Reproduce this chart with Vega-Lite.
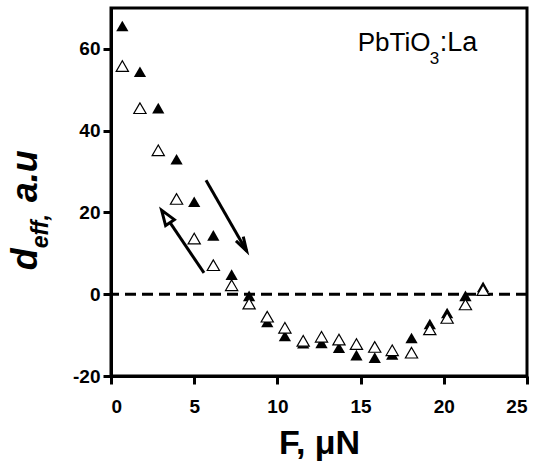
{
  "$schema": "https://vega.github.io/schema/vega-lite/v6.json",
  "width": 416,
  "height": 368,
  "autosize": {"type": "none"},
  "padding": {"left": 111, "top": 8, "right": 23, "bottom": 86},
  "background": "white",
  "datasets": {
    "points": [
      {"series": "up", "F": 0.68, "d": 65.6},
      {"series": "up", "F": 1.74, "d": 54.4},
      {"series": "up", "F": 2.84, "d": 45.5},
      {"series": "up", "F": 3.94, "d": 33.0},
      {"series": "up", "F": 5.0, "d": 22.6},
      {"series": "up", "F": 6.15, "d": 14.4},
      {"series": "up", "F": 7.25, "d": 4.8},
      {"series": "up", "F": 8.3, "d": -0.4},
      {"series": "up", "F": 9.39, "d": -6.8},
      {"series": "up", "F": 10.45, "d": -10.2},
      {"series": "up", "F": 11.55, "d": -12.0},
      {"series": "up", "F": 12.65, "d": -11.9},
      {"series": "up", "F": 13.7, "d": -13.1},
      {"series": "up", "F": 14.75, "d": -14.9},
      {"series": "up", "F": 15.85, "d": -15.5},
      {"series": "up", "F": 16.9, "d": -14.7},
      {"series": "up", "F": 18.06, "d": -10.7},
      {"series": "up", "F": 19.16, "d": -7.3},
      {"series": "up", "F": 20.2, "d": -4.6},
      {"series": "up", "F": 21.3, "d": -0.4},
      {"series": "up", "F": 22.36, "d": 1.8},
      {"series": "down", "F": 0.68, "d": 55.8},
      {"series": "down", "F": 1.74, "d": 45.5},
      {"series": "down", "F": 2.84, "d": 35.2},
      {"series": "down", "F": 3.94, "d": 23.3},
      {"series": "down", "F": 5.0, "d": 13.6},
      {"series": "down", "F": 6.15, "d": 7.1},
      {"series": "down", "F": 7.25, "d": 2.2},
      {"series": "down", "F": 8.3, "d": -2.3},
      {"series": "down", "F": 9.39, "d": -5.5},
      {"series": "down", "F": 10.45, "d": -8.2},
      {"series": "down", "F": 11.55, "d": -11.4},
      {"series": "down", "F": 12.65, "d": -10.4},
      {"series": "down", "F": 13.7, "d": -11.1},
      {"series": "down", "F": 14.75, "d": -12.2},
      {"series": "down", "F": 15.85, "d": -12.9},
      {"series": "down", "F": 16.9, "d": -13.7},
      {"series": "down", "F": 18.06, "d": -14.3},
      {"series": "down", "F": 19.16, "d": -8.6},
      {"series": "down", "F": 20.2, "d": -5.8},
      {"series": "down", "F": 21.3, "d": -2.5},
      {"series": "down", "F": 22.36, "d": 1.0}
    ],
    "arrows": [
      {"arrow": "a", "step": 0, "F": 5.71, "d": 27.9},
      {"arrow": "a", "step": 1, "F": 8.15, "d": 10.6},
      {"arrow": "b", "step": 0, "F": 5.59, "d": 5.2},
      {"arrow": "b", "step": 1, "F": 3.55, "d": 17.5}
    ],
    "one": [{"k": 1}]
  },
  "layer": [
    {
      "data": {"name": "arrows"},
      "mark": {"type": "line", "color": "black", "strokeWidth": 3},
      "encoding": {
        "x": {"field": "F", "type": "quantitative", "scale": {"domain": [0, 25], "nice": false}, "axis": {"values": [0, 5, 10, 15, 20, 25], "title": "F, μN", "labelExpr": "'' + datum.value"}},
        "y": {"field": "d", "type": "quantitative", "scale": {"domain": [-20, 70], "nice": false}, "axis": {"values": [-20, 0, 20, 40, 60], "title": null, "labelExpr": "'' + datum.value"}},
        "detail": {"field": "arrow"},
        "order": {"field": "step"}
      }
    },
    {
      "data": {"name": "one"},
      "mark": {"type": "rule", "color": "black", "strokeWidth": 3, "strokeDash": [11, 6]},
      "encoding": {"y": {"datum": 0, "type": "quantitative"}}
    },
    {
      "data": {"name": "one"},
      "mark": {"type": "point", "shape": "M-0.3,1L0,0L0.3,1", "size": 784, "filled": false, "stroke": "black", "strokeWidth": 3, "angle": 150, "opacity": 1},
      "encoding": {"x": {"datum": 8.15, "type": "quantitative"}, "y": {"datum": 10.6, "type": "quantitative"}}
    },
    {
      "data": {"name": "one"},
      "mark": {"type": "point", "shape": "M0,0L-0.35,1L0.35,1Z", "size": 900, "filled": false, "fill": "white", "stroke": "black", "strokeWidth": 3, "angle": 326, "opacity": 1, "fillOpacity": 1},
      "encoding": {"x": {"datum": 3.04, "type": "quantitative"}, "y": {"datum": 20.56, "type": "quantitative"}}
    },
    {
      "data": {"name": "points"},
      "transform": [{"filter": "datum.series === 'up'"}],
      "mark": {"type": "point", "shape": "triangle-up", "size": 150, "filled": true, "color": "black", "opacity": 1},
      "encoding": {
        "x": {"field": "F", "type": "quantitative", "axis": {"values": [0, 5, 10, 15, 20, 25], "title": "F, μN", "labelExpr": "'' + datum.value"}},
        "y": {"field": "d", "type": "quantitative", "axis": {"values": [-20, 0, 20, 40, 60], "title": null, "labelExpr": "'' + datum.value"}}
      }
    },
    {
      "data": {"name": "points"},
      "transform": [{"filter": "datum.series === 'down'"}],
      "mark": {"type": "point", "shape": "triangle-up", "size": 150, "filled": false, "fill": "white", "fillOpacity": 1, "stroke": "black", "strokeWidth": 1.2, "opacity": 1},
      "encoding": {
        "x": {"field": "F", "type": "quantitative", "axis": {"values": [0, 5, 10, 15, 20, 25], "title": "F, μN", "labelExpr": "'' + datum.value"}},
        "y": {"field": "d", "type": "quantitative", "axis": {"values": [-20, 0, 20, 40, 60], "title": null, "labelExpr": "'' + datum.value"}}
      }
    },
    {
      "data": {"name": "one"},
      "mark": {"type": "text", "text": "PbTiO", "font": "Liberation Sans", "fontSize": 26, "align": "left", "baseline": "alphabetic", "color": "black"},
      "encoding": {"x": {"datum": 14.83, "type": "quantitative"}, "y": {"datum": 59.4, "type": "quantitative"}}
    },
    {
      "data": {"name": "one"},
      "mark": {"type": "text", "text": "3", "font": "Liberation Sans", "fontSize": 17, "align": "left", "baseline": "alphabetic", "dx": 72, "dy": 13, "color": "black"},
      "encoding": {"x": {"datum": 14.83, "type": "quantitative"}, "y": {"datum": 59.4, "type": "quantitative"}}
    },
    {
      "data": {"name": "one"},
      "mark": {"type": "text", "text": ":La", "font": "Liberation Sans", "fontSize": 27, "align": "left", "baseline": "alphabetic", "dx": 82, "color": "black"},
      "encoding": {"x": {"datum": 14.83, "type": "quantitative"}, "y": {"datum": 59.4, "type": "quantitative"}}
    },
    {
      "data": {"name": "one"},
      "mark": {"type": "text", "text": "d", "font": "Liberation Sans", "fontSize": 36, "fontWeight": "bold", "fontStyle": "italic", "align": "left", "baseline": "alphabetic", "angle": 270, "color": "black"},
      "encoding": {"x": {"datum": -4.44, "type": "quantitative"}, "y": {"datum": 5.88, "type": "quantitative"}}
    },
    {
      "data": {"name": "one"},
      "mark": {"type": "text", "text": "eff,", "font": "Liberation Sans", "fontSize": 23, "fontWeight": "bold", "fontStyle": "italic", "align": "left", "baseline": "alphabetic", "angle": 270, "dx": 22, "dy": 11, "color": "black"},
      "encoding": {"x": {"datum": -4.44, "type": "quantitative"}, "y": {"datum": 5.88, "type": "quantitative"}}
    },
    {
      "data": {"name": "one"},
      "mark": {"type": "text", "text": "a.u", "font": "Liberation Sans", "fontSize": 36, "fontWeight": "bold", "fontStyle": "italic", "align": "left", "baseline": "alphabetic", "angle": 270, "dx": 68, "color": "black"},
      "encoding": {"x": {"datum": -4.44, "type": "quantitative"}, "y": {"datum": 5.88, "type": "quantitative"}}
    }
  ],
  "config": {
    "view": {"stroke": "black", "strokeWidth": 3},
    "axis": {
      "grid": false,
      "domainColor": "black",
      "domainWidth": 3,
      "tickColor": "black",
      "tickWidth": 3,
      "tickSize": 8,
      "labelFont": "Arial",
      "labelFontSize": 19,
      "labelFontWeight": "bold",
      "labelColor": "black",
      "titleFont": "Liberation Sans",
      "titleFontSize": 34,
      "titleFontWeight": "bold",
      "titleColor": "black"
    },
    "axisX": {"labelPadding": 13, "titlePadding": 10},
    "axisY": {"labelPadding": 3}
  }
}
